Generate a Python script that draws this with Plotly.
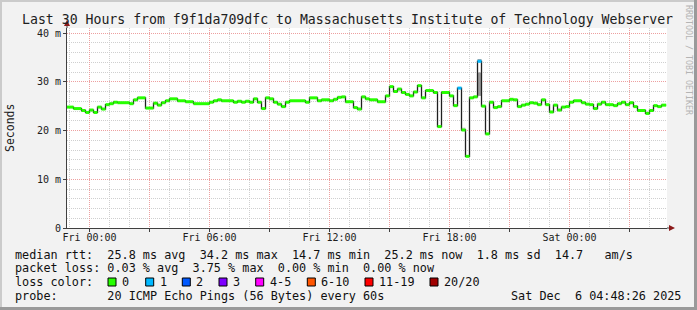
import plotly.graph_objects as go
import pandas as pd

# ---------------- data ----------------
step_start = [
    "2025-12-04 22:48", "2025-12-04 23:12", "2025-12-04 23:36", "2025-12-04 23:48",
    "2025-12-05 00:00", "2025-12-05 00:12", "2025-12-05 00:24", "2025-12-05 00:36",
    "2025-12-05 00:48", "2025-12-05 01:00", "2025-12-05 01:12", "2025-12-05 01:24",
    "2025-12-05 02:00", "2025-12-05 02:12", "2025-12-05 02:24", "2025-12-05 02:48",
    "2025-12-05 03:12", "2025-12-05 03:24", "2025-12-05 03:36", "2025-12-05 03:48",
    "2025-12-05 04:00", "2025-12-05 04:24", "2025-12-05 04:48", "2025-12-05 05:12",
    "2025-12-05 06:00", "2025-12-05 06:12", "2025-12-05 06:24", "2025-12-05 06:36",
    "2025-12-05 07:12", "2025-12-05 07:24", "2025-12-05 07:36", "2025-12-05 07:48",
    "2025-12-05 08:00", "2025-12-05 08:12", "2025-12-05 08:24", "2025-12-05 08:36",
    "2025-12-05 08:48", "2025-12-05 09:00", "2025-12-05 09:12", "2025-12-05 09:24",
    "2025-12-05 09:36", "2025-12-05 09:48", "2025-12-05 10:00", "2025-12-05 10:48",
    "2025-12-05 11:00", "2025-12-05 11:24", "2025-12-05 11:36", "2025-12-05 12:00",
    "2025-12-05 12:12", "2025-12-05 12:24", "2025-12-05 12:36", "2025-12-05 12:48",
    "2025-12-05 13:12", "2025-12-05 13:24", "2025-12-05 13:36", "2025-12-05 13:48",
    "2025-12-05 14:00", "2025-12-05 14:24", "2025-12-05 14:48", "2025-12-05 15:00",
    "2025-12-05 15:12", "2025-12-05 15:24", "2025-12-05 15:36", "2025-12-05 15:48",
    "2025-12-05 16:00", "2025-12-05 16:12", "2025-12-05 16:24", "2025-12-05 16:36",
    "2025-12-05 16:48", "2025-12-05 17:12", "2025-12-05 17:24", "2025-12-05 17:36",
    "2025-12-05 18:00", "2025-12-05 18:12", "2025-12-05 18:24", "2025-12-05 18:36",
    "2025-12-05 18:48", "2025-12-05 19:00", "2025-12-05 19:12", "2025-12-05 19:24",
    "2025-12-05 19:36", "2025-12-05 19:48", "2025-12-05 20:00", "2025-12-05 20:12",
    "2025-12-05 20:24", "2025-12-05 20:36", "2025-12-05 21:00", "2025-12-05 21:12",
    "2025-12-05 21:24", "2025-12-05 21:36", "2025-12-05 21:48", "2025-12-05 22:00",
    "2025-12-05 22:12", "2025-12-05 22:24", "2025-12-05 22:36", "2025-12-05 22:48",
    "2025-12-05 23:00", "2025-12-05 23:12", "2025-12-05 23:24", "2025-12-05 23:36",
    "2025-12-05 23:48", "2025-12-06 00:00", "2025-12-06 00:12", "2025-12-06 00:36",
    "2025-12-06 00:48", "2025-12-06 01:00", "2025-12-06 01:12", "2025-12-06 01:24",
    "2025-12-06 01:36", "2025-12-06 01:48", "2025-12-06 02:12", "2025-12-06 02:24",
    "2025-12-06 02:36", "2025-12-06 02:48", "2025-12-06 03:00", "2025-12-06 03:12",
    "2025-12-06 03:24", "2025-12-06 03:48", "2025-12-06 04:00", "2025-12-06 04:12",
    "2025-12-06 04:24", "2025-12-06 04:36",
]
last_sample_end = "2025-12-06 04:50"

median_ms = [
    24.8, 24.5, 24.1, 23.7,
    24.2, 23.7, 24.8, 24.4,
    25.3, 25.5, 25.8, 25.7,
    25.5, 26.3, 26.7, 24.6,
    25.6, 25.2, 25.7, 26.1,
    26.5, 26.1, 25.9, 25.5,
    25.8, 26.1, 26.3, 26.1,
    25.8, 26.0, 25.8, 26.0,
    25.8, 26.5, 25.8, 24.5,
    26.7, 26.5, 25.8, 25.4,
    24.9, 25.8, 26.1, 25.8,
    26.7, 26.1, 26.3, 26.1,
    26.4, 26.8, 26.9, 25.9,
    24.7, 24.4, 26.9, 26.5,
    26.3, 25.9, 27.1, 29.0,
    28.0, 28.5, 27.8, 27.4,
    27.1, 27.9, 29.2, 26.7,
    28.2, 27.8, 20.8, 27.8,
    27.1, 25.1, 28.7, 20.1,
    14.7, 26.7, 26.9, 34.2,
    25.0, 19.3, 25.8, 24.7,
    24.9, 26.1, 26.4, 26.3,
    24.9, 25.2, 25.4, 25.7,
    25.6, 25.3, 26.3, 25.3,
    23.8, 25.2, 24.2, 24.8,
    24.9, 25.8, 26.1, 25.7,
    25.4, 25.3, 24.5, 25.4,
    25.8, 25.3, 25.1, 25.5,
    25.8, 25.3, 25.7, 24.9,
    24.1, 23.5, 24.1, 25.1,
    24.9, 25.2,
]

# lost pings (out of 20) per step; only two steps had a loss of 1
loss_at = {"2025-12-05 18:24": 1, "2025-12-05 19:24": 1}
loss_pings = [loss_at.get(t, 0) for t in step_start]

# smoke (spread of the individual pings) where it is visible
smoke_start = ["2025-12-05 18:36", "2025-12-05 19:24", "2025-12-05 19:24"]
smoke_end = ["2025-12-05 18:48", "2025-12-05 19:36", "2025-12-05 19:36"]
smoke_lo = [20.1, 27.1, 34.2]
smoke_hi = [20.6, 31.9, 34.6]

y_tick_vals = [0, 10, 20, 30, 40]
y_tick_text = ["0", "10 m", "20 m", "30 m", "40 m"]
x_tick_vals = pd.date_range("2025-12-05 00:00", "2025-12-06 03:00", freq="3h")
x_tick_text = ["Fri 00:00", "", "Fri 06:00", "", "Fri 12:00", "", "Fri 18:00", "",
               "Sat 00:00", ""]

loss_labels = ["0", "1", "2", "3", "4-5", "6-10", "11-19", "20/20"]
loss_max = [0, 1, 2, 3, 5, 10, 19, 20]

title = "Last 30 Hours from f9f1da709dfc to Massachusetts Institute of Technology Webserver"
rtt_line = "median rtt:  25.8 ms avg  34.2 ms max  14.7 ms min  25.2 ms now  1.8 ms sd  14.7   am/s"
loss_line = "packet loss: 0.03 % avg  3.75 % max  0.00 % min  0.00 % now"
probe_text = "probe:       20 ICMP Echo Pings (56 Bytes) every 60s"
date_text = "Sat Dec  6 04:48:26 2025"

# ---------------- styles / layout ----------------
loss_colors = ["#26ff00", "#00b8ff", "#0059ff", "#7e00ff", "#ff00ff", "#ff5500",
               "#ff0000", "#a00000"]
smoke_colors = ["#d0d0d0", "#9a9a9a", "#7a7a7a"]
MONO = "DejaVu Sans Mono"
W, H = 697, 310
L, R, T, B = 67, 667, 28, 228
Y_TOP = 40 * 200 / 195.0


def fx(px):
    return (px - L) / (R - L)


def fy(py):
    return (B - py) / (B - T)


def nb(s):
    return s.replace(" ", "\u00a0")


def bucket(n):
    for i, m in enumerate(loss_max):
        if n <= m:
            return i
    return len(loss_max) - 1


fig = go.Figure()

t_start = pd.to_datetime(step_start)
t_end = list(t_start[1:]) + [pd.Timestamp(last_sample_end)]

# smoke
for s0, s1, lo, hi, c in zip(smoke_start, smoke_end, smoke_lo, smoke_hi, smoke_colors):
    fig.add_trace(go.Scatter(
        x=[s0, s1, s1, s0, s0], y=[lo, lo, hi, hi, lo], mode="lines",
        fill="toself", fillcolor=c, line=dict(width=0, color=c),
        hoverinfo="skip", showlegend=False))

# black stair line
fig.add_trace(go.Scatter(
    x=list(t_start) + [pd.Timestamp(last_sample_end)],
    y=median_ms + [median_ms[-1]],
    mode="lines", line=dict(color="#202020", width=1.3, shape="hv"),
    hoverinfo="skip", showlegend=False))

# coloured horizontal segments by loss
for b, col in enumerate(loss_colors):
    xs, ys = [], []
    for a, e, v, n in zip(t_start, t_end, median_ms, loss_pings):
        if bucket(n) == b:
            xs += [a, e, None]
            ys += [v, v, None]
    if xs:
        fig.add_trace(go.Scatter(x=xs, y=ys, mode="lines",
                                 line=dict(color=col, width=3),
                                 hoverinfo="skip", showlegend=False))

grid_minor = "#cfcfcf"
grid_major = "#eda0a0"
axis_col = "#404040"

fig.update_xaxes(
    type="date",
    range=["2025-12-04 22:52:30", "2025-12-06 04:52:30"],
    tickvals=x_tick_vals, ticktext=x_tick_text,
    ticks="outside", ticklen=3, tickcolor=axis_col,
    ticklabelstandoff=-3,
    showgrid=True, gridcolor=grid_major, griddash="1px,1px", gridwidth=1,
    minor=dict(dtick=3600000, tick0="2025-12-05 00:00", showgrid=True,
               gridcolor=grid_minor, griddash="1px,1px", gridwidth=1),
    showline=True, linecolor=axis_col, linewidth=1, zeroline=False,
    tickfont=dict(family=MONO, size=10, color="#202020"),
    fixedrange=True,
)
fig.update_yaxes(
    range=[0, Y_TOP],
    tickvals=y_tick_vals, ticktext=y_tick_text,
    ticks="outside", ticklen=3, tickcolor=axis_col,
    showgrid=True, gridcolor=grid_major, griddash="1px,1px", gridwidth=1,
    minor=dict(dtick=2, showgrid=True, gridcolor=grid_minor,
               griddash="1px,1px", gridwidth=1),
    showline=True, linecolor=axis_col, linewidth=1, zeroline=False,
    tickfont=dict(family=MONO, size=10, color="#202020"),
    fixedrange=True,
)

shapes = []
# frame shading
shapes.append(dict(type="rect", xref="paper", yref="paper", x0=fx(0), x1=fx(W), y0=fy(0), y1=fy(2),
                   fillcolor="#cbcbcb", line=dict(width=0), layer="above"))
shapes.append(dict(type="rect", xref="paper", yref="paper", x0=fx(0), x1=fx(2), y0=fy(0), y1=fy(H),
                   fillcolor="#cbcbcb", line=dict(width=0), layer="above"))
shapes.append(dict(type="rect", xref="paper", yref="paper", x0=fx(W - 3), x1=fx(W), y0=fy(0), y1=fy(H),
                   fillcolor="#9a9a9a", line=dict(width=0), layer="above"))
shapes.append(dict(type="rect", xref="paper", yref="paper", x0=fx(0), x1=fx(W), y0=fy(H - 3), y1=fy(H),
                   fillcolor="#9a9a9a", line=dict(width=0), layer="above"))
# axis extensions with arrows
shapes.append(dict(type="line", xref="paper", yref="paper", x0=fx(L), x1=fx(L), y0=fy(T), y1=fy(23),
                   line=dict(color=axis_col, width=1)))
shapes.append(dict(type="path", xref="paper", yref="paper",
                   path=f"M {fx(L-3)},{fy(26)} L {fx(L+3)},{fy(26)} L {fx(L)},{fy(20)} Z",
                   fillcolor="#8b1a1a", line=dict(width=0)))
shapes.append(dict(type="line", xref="paper", yref="paper", x0=fx(R), x1=fx(670), y0=fy(B), y1=fy(B),
                   line=dict(color=axis_col, width=1)))
shapes.append(dict(type="path", xref="paper", yref="paper",
                   path=f"M {fx(669)},{fy(B-3)} L {fx(669)},{fy(B+3)} L {fx(675)},{fy(B)} Z",
                   fillcolor="#8b1a1a", line=dict(width=0)))

annotations = []
annotations.append(dict(text=nb(title), x=fx(347), y=fy(19), xref="paper", yref="paper",
                        showarrow=False, xanchor="center", yanchor="middle",
                        font=dict(family=MONO, size=13.2, color="#202020")))
annotations.append(dict(text="Seconds", x=fx(10), y=fy(128), xref="paper", yref="paper",
                        showarrow=False, textangle=-90, xanchor="center", yanchor="middle",
                        font=dict(family=MONO, size=11.5, color="#202020")))
annotations.append(dict(text=nb("RRDTOOL / TOBI OETIKER"), x=fx(689), y=fy(60),
                        xref="paper", yref="paper", showarrow=False, textangle=90,
                        xanchor="center", yanchor="middle",
                        font=dict(family=MONO, size=8.3, color="#b4b4b4")))

LEG = 11.8
TXT_X = 15  # annotation boxes add ~1px padding


def leg_text(s, xpos, ypos, anchor="left"):
    annotations.append(dict(text=nb(s), x=fx(xpos), y=fy(ypos), xref="paper", yref="paper",
                            showarrow=False, xanchor=anchor, yanchor="middle",
                            borderpad=0, borderwidth=0,
                            font=dict(family=MONO, size=LEG, color="#101010")))


leg_text(rtt_line, TXT_X, 254.5)
leg_text(loss_line, TXT_X, 268.3)
leg_text("loss color:", TXT_X, 282.3)
box_x = [108, 145.7, 182.3, 219, 255.7, 307.3, 365, 430]
for lab, col, bx in zip(loss_labels, loss_colors, box_x):
    shapes.append(dict(type="rect", xref="paper", yref="paper", x0=fx(bx), x1=fx(bx + 8),
                       y0=fy(286), y1=fy(278), fillcolor=col,
                       line=dict(color="#000000", width=1), layer="above"))
    leg_text(lab, bx + 14, 282.3)
leg_text(probe_text, TXT_X, 295.7)
leg_text(date_text, 681, 295.7, anchor="right")

fig.update_layout(
    width=W, height=H,
    margin=dict(l=L, r=W - R, t=T, b=H - B, pad=0),
    paper_bgcolor="#f2f2f2", plot_bgcolor="#ffffff",
    showlegend=False, shapes=shapes, annotations=annotations,
    font=dict(family=MONO),
)

fig.write_html("out.html", config={"displayModeBar": False})
